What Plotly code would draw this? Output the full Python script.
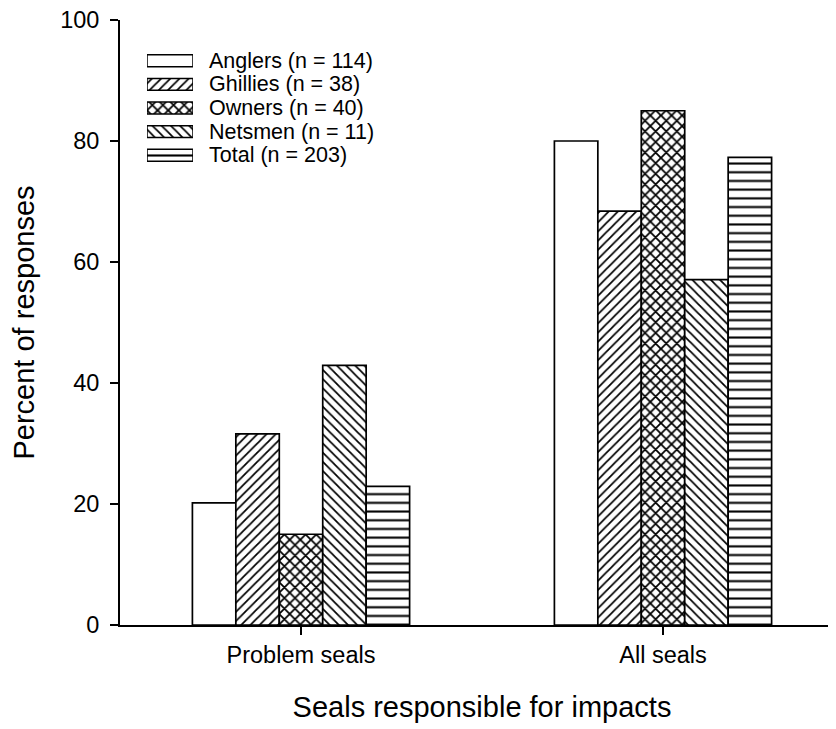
import plotly.graph_objects as go

categories = ["Problem seals", "All seals"]
series_names = ["Anglers (n = 114)", "Ghillies (n = 38)", "Owners (n = 40)",
                "Netsmen (n = 11)", "Total (n = 203)"]
anglers = [20.2, 80.0]
ghillies = [31.6, 68.4]
owners = [15.0, 85.0]
netsmen = [42.9, 57.1]
total = [22.9, 77.3]
y_ticks = [0, 20, 40, 60, 80, 100]

values = [anglers, ghillies, owners, netsmen, total]
shapes = ["", "/", "x", "\\", "-"]
sizes = [8, 6.5, 7.5, 6.5, 8.7]
solid = [0.3, 0.27, 0.42, 0.27, 0.24]

FONT = "Liberation Sans, Arial, sans-serif"

fig = go.Figure()
for name, vals, shp, sz, so in zip(series_names, values, shapes, sizes, solid):
    fig.add_trace(go.Bar(
        x=categories, y=vals, name=name, showlegend=False,
        marker=dict(color="white", line=dict(color="black", width=1.7),
                    pattern=dict(shape=shp, fgcolor="#000000", fgopacity=1,
                                 fillmode="overlay",
                                 size=sz, solidity=so)),
    ))

# legend swatches drawn as a small horizontal bar chart
fig.add_trace(go.Bar(
    y=series_names, x=[1] * len(series_names), orientation="h",
    xaxis="x2", yaxis="y2", showlegend=False, width=0.5, hoverinfo="skip",
    marker=dict(color="white", line=dict(color="black", width=1.5),
                pattern=dict(shape=shapes, fgcolor="#000000", fgopacity=1,
                             fillmode="overlay",
                             size=sizes, solidity=solid)),
))
for name in series_names:
    fig.add_annotation(x=0.1195, xref="paper", y=name, yref="y2", text=name,
                       showarrow=False, xanchor="left", yanchor="middle",
                       font=dict(family=FONT, size=21.5, color="black"))

fig.update_layout(
    width=836, height=729,
    margin=dict(l=112, r=0, t=12, b=112),
    paper_bgcolor="white", plot_bgcolor="white",
    font=dict(family=FONT, color="black"),
    barmode="group", bargap=0.4, bargroupgap=0,
    xaxis=dict(
        range=[-0.5, 1.5], showgrid=False, zeroline=False,
        showline=True, linecolor="black", linewidth=1.7,
        ticks="outside", ticklen=8, tickwidth=1.5, tickcolor="black",
        tickfont=dict(size=23.5, family=FONT),
        title=dict(text="Seals responsible for impacts", font=dict(size=29, family=FONT), standoff=30),
    ),
    yaxis=dict(
        range=[0, 100], tickvals=y_ticks, showgrid=False, zeroline=False,
        showline=True, linecolor="black", linewidth=1.7,
        ticks="outside", ticklen=8, tickwidth=1.5, tickcolor="black",
        tickfont=dict(size=23.5, family=FONT), ticklabelstandoff=6,
        ticklabeloverflow="allow",
        title=dict(text="Percent of responses", font=dict(size=29, family=FONT), standoff=32),
    ),
    xaxis2=dict(domain=[0.0373, 0.1008], range=[0, 1], anchor="y2",
                visible=False, fixedrange=True),
    yaxis2=dict(domain=[0.7533, 0.9558], anchor="x2", autorange="reversed",
                visible=False, fixedrange=True),
)

fig.write_html("out.html")
